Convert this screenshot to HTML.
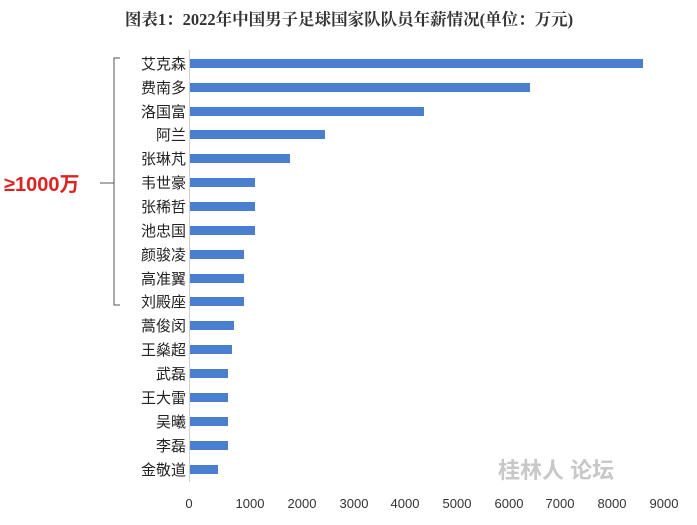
<!DOCTYPE html>
<html><head><meta charset="utf-8"><style>
body{margin:0;width:697px;height:520px;background:#fff;overflow:hidden;font-family:"Liberation Sans","Noto Sans CJK SC",sans-serif}
</style></head><body>
<svg width="697" height="520" xmlns="http://www.w3.org/2000/svg" font-family="Liberation Sans, Noto Sans CJK SC, sans-serif">
<text x="349" y="25" text-anchor="middle" font-size="16.5" font-weight="bold" fill="#333" font-family="Liberation Serif, Noto Serif CJK SC, serif">图表1：2022年中国男子足球国家队队员年薪情况(单位：万元)</text>
<line x1="189.5" y1="50" x2="189.5" y2="482" stroke="#d0d0d0"/>
<g fill="#4a7fcf">
<rect x="190" y="59" width="453" height="9"/>
<rect x="190" y="83" width="340" height="9"/>
<rect x="190" y="107" width="234" height="9"/>
<rect x="190" y="130" width="135" height="9"/>
<rect x="190" y="154" width="100" height="9"/>
<rect x="190" y="178" width="65" height="9"/>
<rect x="190" y="202" width="65" height="9"/>
<rect x="190" y="226" width="65" height="9"/>
<rect x="190" y="250" width="54" height="9"/>
<rect x="190" y="274" width="54" height="9"/>
<rect x="190" y="297" width="54" height="9"/>
<rect x="190" y="321" width="44" height="9"/>
<rect x="190" y="345" width="42" height="9"/>
<rect x="190" y="369" width="38" height="9"/>
<rect x="190" y="393" width="38" height="9"/>
<rect x="190" y="417" width="38" height="9"/>
<rect x="190" y="441" width="38" height="9"/>
<rect x="190" y="465" width="28" height="9"/>
</g>
<g font-size="15" fill="#222" text-anchor="end">
<text x="186" y="69">艾克森</text><text x="186" y="93">费南多</text><text x="186" y="117">洛国富</text>
<text x="186" y="140">阿兰</text><text x="186" y="164">张琳芃</text><text x="186" y="188">韦世豪</text>
<text x="186" y="212">张稀哲</text><text x="186" y="236">池忠国</text><text x="186" y="260">颜骏凌</text>
<text x="186" y="284">高准翼</text><text x="186" y="307">刘殿座</text><text x="186" y="331">蒿俊闵</text>
<text x="186" y="355">王燊超</text><text x="186" y="379">武磊</text><text x="186" y="403">王大雷</text>
<text x="186" y="427">吴曦</text><text x="186" y="451">李磊</text><text x="186" y="475">金敬道</text>
</g>
<path d="M120 58 H114 V305 H120" fill="none" stroke="#555" stroke-width="1"/>
<text x="4" y="191" font-size="20" fill="#d22" font-weight="bold">≥1000万</text>
<line x1="100" y1="183" x2="114" y2="183" stroke="#555"/>
<g font-size="13" fill="#333" text-anchor="middle">
<text x="189" y="508">0</text><text x="250" y="508">1000</text><text x="302" y="508">2000</text>
<text x="354" y="508">3000</text><text x="405" y="508">4000</text><text x="457" y="508">5000</text>
<text x="509" y="508">6000</text><text x="560" y="508">7000</text><text x="612" y="508">8000</text><text x="664" y="508">9000</text>
</g>
<text x="498" y="478" font-size="22" fill="#c8c8c8" font-weight="bold">桂林人 论坛</text>
</svg>
</body></html>
